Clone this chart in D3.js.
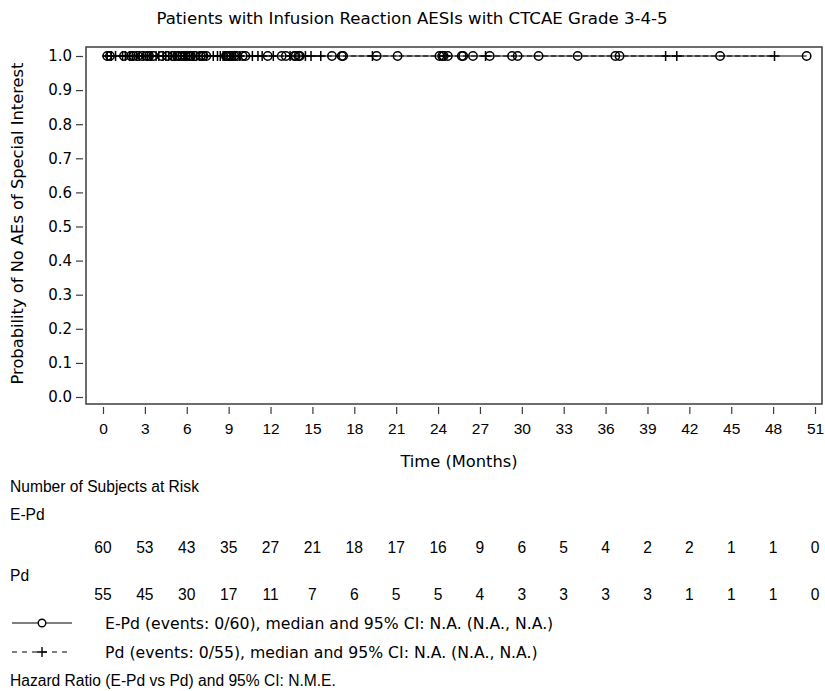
<!DOCTYPE html>
<html>
<head>
<meta charset="utf-8">
<script src="https://cdn.jsdelivr.net/npm/d3@7"></script>
<style>
  html, body { margin: 0; padding: 0; background: #fff; }
</style>
</head>
<body>
<svg id="chart" width="825" height="691" font-family="Liberation Sans, Arial, sans-serif"></svg>
<script>
// Kaplan-Meier: probability of no infusion reaction AESI (grade 3-5)
const title = "Patients with Infusion Reaction AESIs with CTCAE Grade 3-4-5";
const xTicks = [0, 3, 6, 9, 12, 15, 18, 21, 24, 27, 30, 33, 36, 39, 42, 45, 48, 51];
const yTicks = [0.0, 0.1, 0.2, 0.3, 0.4, 0.5, 0.6, 0.7, 0.8, 0.9, 1.0];

// Number at risk at each x tick
const riskEPd = [60, 53, 43, 35, 27, 21, 18, 17, 16, 9, 6, 5, 4, 2, 2, 1, 1, 0];
const riskPd  = [55, 45, 30, 17, 11, 7, 6, 5, 5, 4, 3, 3, 3, 3, 1, 1, 1, 0];

// Survival steps (time, probability); no events, so the curve stays at 1
const stepsEPd = [[0, 1.0], [50.4, 1.0]];
const stepsPd  = [[0, 1.0], [48.1, 1.0]];

// Censoring times (months)
const censorEPd = [0.3, 0.5, 1.5, 2.0, 2.2, 2.5, 2.8,
  3.1, 3.3, 3.6, 4.2, 4.6, 5.0, 5.3, 5.5, 5.7, 5.9,
  6.1, 6.3, 6.6, 7.0, 7.2, 7.4, 8.8, 8.9,
  9.0, 9.1, 9.2, 9.4, 9.6, 10.0, 10.2, 11.8,
  12.8, 13.1, 13.7, 13.8, 14.0, 14.1,
  16.4, 17.1, 17.2, 19.6, 21.1,
  24.1, 24.3, 24.4, 24.7, 25.7, 25.8, 26.5,
  27.7, 29.3, 29.7, 31.2, 34.0, 36.7, 37.0, 44.2, 50.4];
const censorPd = [0.3, 0.6, 0.9, 1.4, 1.6, 1.9, 2.1, 2.4, 2.6, 2.9,
  3.2, 3.4, 3.5, 3.8, 4.0, 4.3, 4.5, 4.7, 4.9, 5.1, 5.2, 5.4, 5.6, 5.8, 5.9,
  6.0, 6.2, 6.4, 6.5, 6.7, 6.9, 7.1, 7.4, 7.9, 8.2, 8.4, 8.6, 8.7,
  9.3, 9.5, 9.8, 10.7, 11.1, 11.4,
  12.2, 13.4, 14.5, 14.9, 15.6, 19.3, 24.5, 27.4, 40.3, 41.1, 48.1];

const legendEPd = "E-Pd (events: 0/60), median and 95% CI: N.A. (N.A., N.A.)";
const legendPd = "Pd (events: 0/55), median and 95% CI: N.A. (N.A., N.A.)";
const hazardText = "Hazard Ratio (E-Pd vs Pd) and 95% CI: N.M.E.";

const svg = d3.select("#chart");
const ink = "#000";
const frameColor = "#3c3c3c";
const wide = "DejaVu Sans, Verdana, sans-serif";
const plain = "Liberation Sans, Arial, sans-serif";

const frame = { left: 86, right: 822, top: 47, bottom: 404 };
const x = d3.scaleLinear().domain([0, 51]).range([103, 815]);
const y = d3.scaleLinear().domain([0, 1]).range([397, 56]);

svg.append("rect").attr("width", 825).attr("height", 691).attr("fill", "#fff");

// Title
svg.append("text")
  .attr("x", 412).attr("y", 24)
  .attr("text-anchor", "middle")
  .attr("font-family", wide)
  .attr("font-size", 16.6)
  .attr("fill", ink)
  .text(title);

// Plot frame
svg.append("rect")
  .attr("x", frame.left).attr("y", frame.top)
  .attr("width", frame.right - frame.left)
  .attr("height", frame.bottom - frame.top)
  .attr("fill", "none")
  .attr("stroke", frameColor)
  .attr("stroke-width", 1.5);

// Y axis
const yAxis = d3.axisLeft(y).tickValues(yTicks).tickFormat(d3.format(".1f"))
  .tickSize(7).tickPadding(4);
const gy = svg.append("g").attr("transform", `translate(${frame.left - 3},0)`).call(yAxis);
gy.attr("font-family", null).attr("font-size", null);
gy.select(".domain").remove();
gy.selectAll(".tick line").attr("stroke", frameColor).attr("stroke-width", 1.2);
gy.selectAll(".tick text").attr("font-size", 15).attr("font-family", wide).attr("fill", ink);

// X axis
const xAxis = d3.axisBottom(x).tickValues(xTicks).tickFormat(d3.format("d"))
  .tickSize(7).tickPadding(9);
const gx = svg.append("g").attr("transform", `translate(0,${frame.bottom + 3})`).call(xAxis);
gx.attr("font-family", null).attr("font-size", null);
gx.select(".domain").remove();
gx.selectAll(".tick line").attr("stroke", frameColor).attr("stroke-width", 1.2);
gx.selectAll(".tick text").attr("font-size", 15.5).attr("fill", ink).attr("font-family", plain);

// Axis labels
svg.append("text")
  .attr("x", (frame.left + frame.right) / 2 + 5).attr("y", 467)
  .attr("text-anchor", "middle").attr("font-size", 16.3).attr("font-family", wide)
  .attr("fill", ink)
  .text("Time (Months)");
svg.append("text")
  .attr("transform", `translate(23,${(frame.top + frame.bottom) / 2 - 2}) rotate(-90)`)
  .attr("text-anchor", "middle").attr("font-size", 16.3).attr("font-family", wide)
  .attr("fill", ink)
  .text("Probability of No AEs of Special Interest");

// Survival curves
const line = d3.line().x(d => x(d[0])).y(d => y(d[1])).curve(d3.curveStepAfter);
svg.append("path").datum(stepsPd).attr("d", line)
  .attr("fill", "none").attr("stroke", ink).attr("stroke-width", 1.2)
  .attr("stroke-dasharray", "5,3");
svg.append("path").datum(stepsEPd).attr("d", line)
  .attr("fill", "none").attr("stroke", ink).attr("stroke-width", 1.2);

// Censor marks
const plusSize = 5;
const plusPath = `M0,${-plusSize}V${plusSize}M${-plusSize},0H${plusSize}`;
svg.append("g").selectAll("path").data(censorPd).join("path")
  .attr("transform", d => `translate(${x(d)},${y(1)})`)
  .attr("d", plusPath)
  .attr("stroke", ink).attr("stroke-width", 1.5).attr("fill", "none");
svg.append("g").selectAll("circle").data(censorEPd).join("circle")
  .attr("cx", d => x(d)).attr("cy", y(1)).attr("r", 4.2)
  .attr("fill", "none").attr("stroke", ink).attr("stroke-width", 1.5);

// Number at risk table
const riskFont = 15.6;
const tableText = (tx, ty, s, anchor) => svg.append("text")
  .attr("x", tx).attr("y", ty).attr("font-size", riskFont).attr("font-family", plain)
  .attr("text-anchor", anchor || "start").attr("fill", ink).text(s);
tableText(10, 492, "Number of Subjects at Risk");
tableText(10, 520, "E-Pd");
riskEPd.forEach((d, i) => tableText(x(xTicks[i]), 553, d, "middle"));
tableText(10, 581, "Pd");
riskPd.forEach((d, i) => tableText(x(xTicks[i]), 600, d, "middle"));

// Legend
const legY1 = 623, legY2 = 652;
svg.append("line").attr("x1", 12).attr("x2", 72).attr("y1", legY1).attr("y2", legY1)
  .attr("stroke", ink).attr("stroke-width", 1.2);
svg.append("circle").attr("cx", 42).attr("cy", legY1).attr("r", 3.8)
  .attr("fill", "#fff").attr("stroke", ink).attr("stroke-width", 1.4);
svg.append("text").attr("x", 105).attr("y", legY1 + 5.5).attr("font-size", 15.7)
  .attr("font-family", wide).attr("fill", ink).text(legendEPd);

svg.append("line").attr("x1", 12).attr("x2", 72).attr("y1", legY2).attr("y2", legY2)
  .attr("stroke", ink).attr("stroke-width", 1.2).attr("stroke-dasharray", "5,5");
svg.append("path").attr("transform", `translate(42,${legY2})`).attr("d", plusPath)
  .attr("stroke", ink).attr("stroke-width", 1.4);
svg.append("text").attr("x", 105).attr("y", legY2 + 5.5).attr("font-size", 15.7)
  .attr("font-family", wide).attr("fill", ink).text(legendPd);

tableText(10, 686, hazardText);
</script>
</body>
</html>
